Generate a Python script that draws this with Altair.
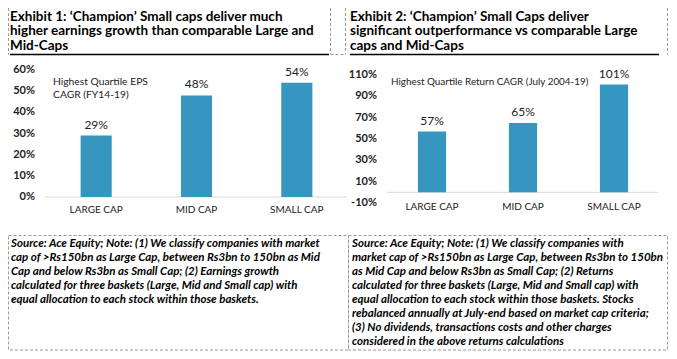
import altair as alt
import pandas as pd

# ---------------- data ----------------
categories = ["LARGE CAP", "MID CAP", "SMALL CAP"]
eps_cagr = [29, 48, 54]
return_cagr = [57, 65, 101]
eps_ticks = [0, 10, 20, 30, 40, 50, 60]
ret_ticks = [-10, 10, 30, 50, 70, 90, 110]

title1 = ["Exhibit 1: \u2018Champion\u2019 Small caps deliver much",
          "higher earnings growth than comparable Large and",
          "Mid-Caps"]
title2 = ["Exhibit 2: \u2018Champion\u2019 Small Caps deliver",
          "significant outperformance vs comparable Large",
          "caps and Mid-Caps"]
annot1 = ["Highest Quartile EPS", "CAGR (FY14-19)"]
annot2 = ["Highest Quartile Return CAGR (July 2004-19)"]
notes1 = ["Source: Ace Equity; Note: (1) We classify companies with market",
          "cap of >Rs150bn as Large Cap, between Rs3bn to 150bn as Mid",
          "Cap and below Rs3bn as Small Cap; (2) Earnings growth",
          "calculated for three  baskets (Large, Mid and Small cap) with",
          "equal allocation to each stock within those baskets."]
notes2 = ["Source: Ace Equity; Note: (1) We classify companies with",
          "market cap of >Rs150bn as Large Cap, between Rs3bn to 150bn",
          "as Mid Cap and below Rs3bn as Small Cap; (2) Returns",
          "calculated for three baskets (Large, Mid and Small cap) with",
          "equal allocation to each stock within those baskets. Stocks",
          "rebalanced annually at July-end based on market cap criteria;",
          "(3) No dividends, transactions costs and other charges",
          "considered in the above returns calculations"]

FONT = "Lato"
BAR = "#3796BF"
DASH = "#9a9a9a"
TXT = "#222222"


def fmt(v):
    return f"{v}%"


def bar_panel(vals, ticks, xs, ys, tick_x, xlab_y, base_x):
    df = pd.DataFrame({"cat": categories, "v": vals, "lbl": [fmt(v) for v in vals]})
    tdf = pd.DataFrame({"t": ticks, "lbl": [fmt(t) for t in ticks]})
    X = alt.X("cat:N", scale=xs, axis=None)
    Y = alt.Y("v:Q", scale=ys, axis=None)
    base = alt.Chart(pd.DataFrame({"z": [0]})).mark_rule(color="#d9d9d9", strokeWidth=1).encode(
        x=alt.value(base_x[0]), x2=alt.value(base_x[1]),
        y=alt.Y("z:Q", scale=ys, axis=None))
    bars = alt.Chart(df).mark_bar(color=BAR).encode(x=X, y=Y)
    labels = alt.Chart(df).mark_text(dy=-7, baseline="alphabetic", font=FONT, fontSize=12,
                                     color=TXT).encode(x=X, y=Y, text="lbl:N")
    yt = alt.Chart(tdf).mark_text(align="right", baseline="middle", font=FONT, fontSize=11,
                                  fontWeight="bold", color=TXT).encode(
        x=alt.value(tick_x), y=alt.Y("t:Q", scale=ys, axis=None), text="lbl:N")
    xl = alt.Chart(df).mark_text(baseline="middle", font=FONT, fontSize=10, color=TXT).encode(
        x=X, y=alt.value(xlab_y), text="cat:N")
    return alt.layer(base, bars, labels, yt, xl)


def tline(s, x, y, size, weight="normal", style="normal", color="#000000"):
    return alt.Chart().mark_text(text=s, align="left", baseline="alphabetic", font=FONT,
                                 fontSize=size, fontWeight=weight, fontStyle=style,
                                 color=color).encode(x=alt.value(x), y=alt.value(y))


def vrule(x, y0, y1, color=DASH, dash=True, w=1):
    kw = dict(color=color, strokeWidth=w)
    if dash:
        kw["strokeDash"] = [3, 2]
    return alt.Chart().mark_rule(**kw).encode(x=alt.value(x), y=alt.value(y0), y2=alt.value(y1))


def hrule(x0, x1, y, color=DASH, dash=True, w=1):
    kw = dict(color=color, strokeWidth=w)
    if dash:
        kw["strokeDash"] = [3, 2]
    return alt.Chart().mark_rule(**kw).encode(x=alt.value(x0), x2=alt.value(x1), y=alt.value(y))


def box(x0, x1, y0, y1):
    return alt.Chart().mark_rect(fillOpacity=0, stroke=DASH, strokeWidth=1,
                                 strokeDash=[3, 2]).encode(
        x=alt.value(x0), x2=alt.value(x1), y=alt.value(y0), y2=alt.value(y1))


x1s = alt.Scale(domain=categories, range=[38, 339], paddingInner=0.69, paddingOuter=0.345)
y1s = alt.Scale(domain=[0, 60], range=[189, 62], nice=False)
x2s = alt.Scale(domain=categories, range=[378.5, 651.5], paddingInner=0.69, paddingOuter=0.345)
y2s = alt.Scale(domain=[-10, 110], range=[195, 67], nice=False)

layers = []
# title frames
UL = 46.5
layers += [vrule(0.5, 0, UL), vrule(322.5, 0, UL), hrule(322.5, 337.5, UL),
           vrule(337.5, 0, UL), vrule(659.5, 0, UL),
           hrule(2, 321, UL, color="#000000", dash=False, w=1.5),
           hrule(342, 651, UL, color="#000000", dash=False, w=1.5)]
for i, s in enumerate(title1):
    layers.append(tline(s, 2, 12.5 + 14.5 * i, 13.5, weight="bold"))
for i, s in enumerate(title2):
    layers.append(tline(s, 342, 12.5 + 14.5 * i, 13.5, weight="bold"))

# charts
layers.append(bar_panel(eps_cagr, eps_ticks, x1s, y1s, 27, 202, (37, 339)))
layers.append(bar_panel(return_cagr, ret_ticks, x2s, y2s, 369, 199, (379, 650)))
for i, s in enumerate(annot1):
    layers.append(tline(s, 45, 77 + 13 * i, 10.3, color=TXT))
layers.append(tline(annot2[0], 383, 77, 9.9, color=TXT))

# notes
layers += [box(0.5, 340.5, 227.5, 342), box(340.5, 659.5, 227.5, 342)]
for i, s in enumerate(notes1):
    layers.append(tline(s, 3, 239 + 14 * i, 11.5, weight="bold", style="italic"))
for i, s in enumerate(notes2):
    layers.append(tline(s, 344, 239 + 14 * i, 11.5, weight="bold", style="italic"))

chart = alt.layer(*layers).resolve_scale(x="independent", y="independent").properties(
    width=661, height=343, autosize=alt.AutoSizeParams(type="none"), padding=0
).configure_view(stroke=None)

chart.save("out.html", embed_options={"renderer": "svg", "actions": False})
